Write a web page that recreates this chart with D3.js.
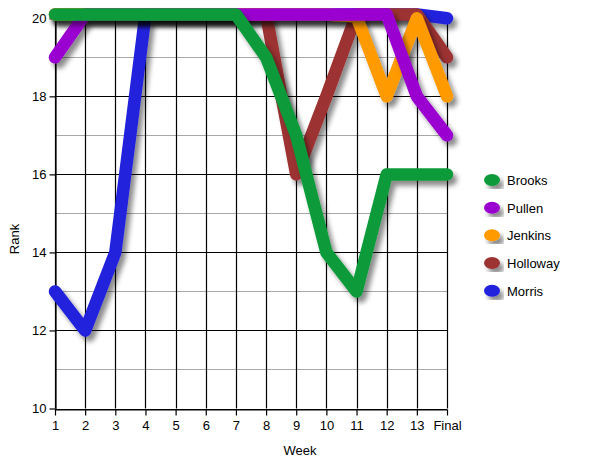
<!DOCTYPE html>
<html>
<head>
<meta charset="utf-8">
<script src="https://cdn.jsdelivr.net/npm/d3@7"></script>
<style>
  html, body { margin: 0; padding: 0; background: #fff; }
  svg { display: block; }
  text { font-family: "Liberation Sans", Arial, sans-serif; fill: #000; }
</style>
</head>
<body>
<svg id="chart" width="600" height="463"></svg>
<script>
const weeks = ["1","2","3","4","5","6","7","8","9","10","11","12","13","Final"];
const seriesNames = ["Brooks","Pullen","Jenkins","Holloway","Morris"];
const seriesColors = ["#0a9a3a","#9a05cf","#ff9a00","#9c3030","#2020dc"];
const brooks   = [20.1,20.1,20.1,20.1,20.1,20.1,20.1,19,17,14,13,16,16,16];
const pullen   = [19,20.1,20.1,20.1,20.1,20.1,20.1,20.1,20.1,20.1,20.1,20.1,18,17];
const jenkins  = [20.1,20.1,20.1,20.1,20.1,20.1,20.1,20.1,20.1,20.1,20.05,18,20,18];
const holloway = [20.1,20.1,20.1,20.1,20.1,20.1,20.1,20.1,16,18,20.1,20.1,20.1,19];
const morris   = [13,12,14,20.1,20.1,20.1,20.1,20.1,20.1,20.1,20.1,20.1,20.1,20];
const yTicks = [10,12,14,16,18,20];
const yMinor = [11,13,15,17,19];

const seriesValues = [brooks, pullen, jenkins, holloway, morris];

const svg = d3.select("#chart");
const defs = svg.append("defs");
const f = defs.append("filter").attr("id","shadow")
  .attr("x","-20%").attr("y","-20%").attr("width","140%").attr("height","140%");
f.append("feDropShadow").attr("dx",4).attr("dy",5).attr("stdDeviation",2.6)
  .attr("flood-color","#000").attr("flood-opacity",0.45);

const x = d3.scalePoint().domain(weeks).range([55, 447]);
const y = d3.scaleLinear().domain([10, 20]).range([408.5, 18.3]);

// minor grid
svg.append("g").selectAll("line").data(yMinor).join("line")
  .attr("x1", 55).attr("x2", 447)
  .attr("y1", d => Math.round(y(d)) + 0.5).attr("y2", d => Math.round(y(d)) + 0.5)
  .attr("stroke", "#a8a8a8").attr("stroke-width", 1);

// major horizontal grid
svg.append("g").selectAll("line").data(yTicks).join("line")
  .attr("x1", 55).attr("x2", 447)
  .attr("y1", d => Math.round(y(d)) + 0.5).attr("y2", d => Math.round(y(d)) + 0.5)
  .attr("stroke", "#000").attr("stroke-width", 1.2);

// vertical grid
svg.append("g").selectAll("line").data(weeks).join("line")
  .attr("x1", d => Math.round(x(d)) + 0.5).attr("x2", d => Math.round(x(d)) + 0.5)
  .attr("y1", y(20)).attr("y2", y(10))
  .attr("stroke", "#000").attr("stroke-width", 1.2);

// axes
const yAxis = d3.axisLeft(y).tickValues(yTicks).tickSize(6).tickPadding(3).tickSizeOuter(0);
const gy = svg.append("g").attr("transform", "translate(55.5,0)").call(yAxis);
gy.select(".domain").attr("stroke","#000").attr("stroke-width",1.2);
gy.selectAll(".tick line").attr("stroke","#000").attr("stroke-width",1.2);
gy.selectAll(".tick text").attr("font-size", 13).attr("fill","#000")
  .attr("font-family","'Liberation Sans', Arial, sans-serif");

const xAxis = d3.axisBottom(x).tickSize(6).tickPadding(5).tickSizeOuter(0);
const gx = svg.append("g").attr("transform", "translate(0," + (Math.round(y(10)) + 0.5) + ")").call(xAxis);
gx.select(".domain").attr("stroke","#000").attr("stroke-width",1.2);
gx.selectAll(".tick line").attr("stroke","#000").attr("stroke-width",1.2);
gx.selectAll(".tick text").attr("font-size", 13).attr("fill","#000")
  .attr("font-family","'Liberation Sans', Arial, sans-serif");

// axis titles
svg.append("text").attr("x", 300).attr("y", 455).attr("text-anchor","middle")
  .attr("font-size", 13).text("Week");
svg.append("text").attr("transform","translate(19,239) rotate(-90)")
  .attr("text-anchor","middle").attr("font-size", 13).text("Rank");

// lines (draw last series first so Brooks is on top)
const line = d3.line().x((d, i) => x(weeks[i])).y(d => y(d));
const order = d3.range(seriesNames.length).reverse();
svg.append("g").selectAll("path").data(order).join("path")
  .attr("d", i => line(seriesValues[i]))
  .attr("fill","none")
  .attr("stroke", i => seriesColors[i])
  .attr("stroke-width", 12.5)
  .attr("stroke-linecap","round")
  .attr("stroke-linejoin","round")
  .attr("filter","url(#shadow)");

// legend
const legendY = d3.scalePoint().domain(seriesNames).range([180, 290.7]);
const lg = svg.append("g");
lg.selectAll("ellipse").data(seriesNames).join("ellipse")
  .attr("cx", 492).attr("cy", d => legendY(d))
  .attr("rx", 8).attr("ry", 6)
  .attr("fill", (d, i) => seriesColors[i])
  .attr("filter","url(#shadow)");
lg.selectAll("text").data(seriesNames).join("text")
  .attr("x", 507).attr("y", d => legendY(d) + 5)
  .attr("font-size", 13).text(d => d);
</script>
</body>
</html>
